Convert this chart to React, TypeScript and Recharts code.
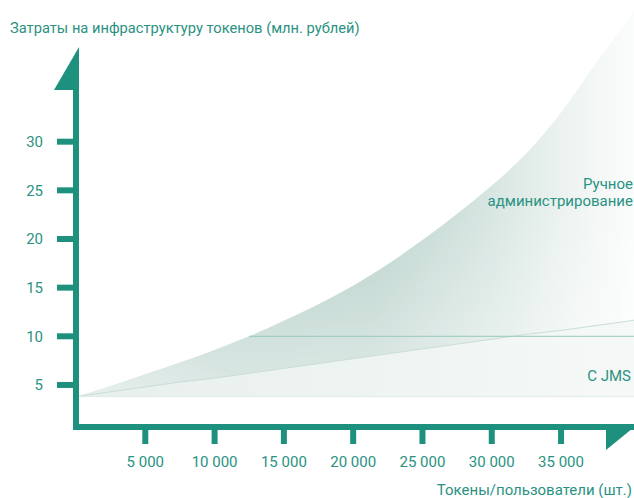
import React from "react"
import { ComposedChart, Area, XAxis, YAxis, ReferenceLine } from "recharts"

// tokens / users (pcs)
const TOKENS = [0, 2500, 5000, 7500, 10000, 12500, 15000, 17500, 20000, 22500, 25000, 27500, 30000, 32500, 35000, 37500, 40000, 42500]
// cost, mln rub
const MANUAL_COST = [3.8, 4.9, 6.1, 7.3, 8.6, 10.0, 11.6, 13.3, 15.2, 17.4, 19.9, 22.6, 25.5, 28.8, 33.0, 38.0, 43.0, 48.5]
const JMS_COST = [3.8, 4.3, 4.8, 5.3, 5.7, 6.2, 6.7, 7.2, 7.7, 8.2, 8.7, 9.2, 9.7, 10.2, 10.6, 11.1, 11.6, 12.1]
const BASE_COST = 3.8

const X_TICKS = [5000, 10000, 15000, 20000, 25000, 30000, 35000]
const Y_TICKS = [5, 10, 15, 20, 25, 30]

const TEAL = "#1e917e"
const TEXT = "#2a9282"
const FONT = "Roboto, 'Open Sans', sans-serif"

const data = TOKENS.map((x, i) => ({ x, manual: MANUAL_COST[i], jms: JMS_COST[i] }))

export default function App() {
  const tickStyle = { fill: TEXT, fontSize: 15, fontFamily: FONT }
  return (
    <div
      style={{
        position: "absolute",
        left: 0,
        top: 0,
        width: 634,
        height: 498,
        overflow: "hidden",
        background: "#fff",
        fontFamily: FONT,
      }}
    >
      <ComposedChart width={665} height={498} data={data} margin={{ top: 0, right: 0, bottom: 11, left: 0 }}>
        <defs>
          <linearGradient id="manualFill" x1="0" y1="0" x2="1" y2="0">
            <stop offset="0" stopColor="#cbddd9" />
            <stop offset="0.25" stopColor="#b3cec7" />
            <stop offset="0.5" stopColor="#b8d1ca" />
            <stop offset="0.7" stopColor="#d6e5e1" />
            <stop offset="0.84" stopColor="#eef4f2" />
            <stop offset="0.94" stopColor="#fafcfb" />
            <stop offset="1" stopColor="#ffffff" />
          </linearGradient>
          <linearGradient id="manualFade" x1="0" y1="0" x2="0" y2="1">
            <stop offset="0" stopColor="#ffffff" stopOpacity={0} />
            <stop offset="0.55" stopColor="#ffffff" stopOpacity={0} />
            <stop offset="1" stopColor="#ffffff" stopOpacity={0.55} />
          </linearGradient>
          <linearGradient id="jmsFill" x1="0" y1="0" x2="1" y2="0">
            <stop offset="0" stopColor="#e7efed" />
            <stop offset="1" stopColor="#f6f9f8" />
          </linearGradient>
        </defs>
        <XAxis
          type="number"
          dataKey="x"
          domain={[0, 42500]}
          ticks={X_TICKS}
          interval={0}
          height={60}
          allowDataOverflow
          axisLine={{ stroke: TEAL, strokeWidth: 6 }}
          tickLine={{ stroke: TEAL, strokeWidth: 6 }}
          tickSize={17}
          tickMargin={12}
          tick={tickStyle}
          tickFormatter={(v) => `${v / 1000} 000`}
        />
        <YAxis
          type="number"
          domain={[0.68, 44.56]}
          ticks={Y_TICKS}
          interval={0}
          width={76}
          allowDataOverflow
          axisLine={false}
          tickLine={{ stroke: TEAL, strokeWidth: 6 }}
          tickSize={19}
          tickMargin={14}
          tick={tickStyle}
        />
        <Area
          type="monotone"
          dataKey={(d) => [d.jms, d.manual]}
          fill="url(#manualFill)"
          fillOpacity={1}
          stroke="none"
          isAnimationActive={false}
        />
        <Area
          type="monotone"
          dataKey={(d) => [d.jms, d.manual]}
          fill="url(#manualFade)"
          fillOpacity={1}
          stroke="none"
          isAnimationActive={false}
        />
        <Area
          type="linear"
          dataKey="jms"
          baseValue={BASE_COST}
          fill="url(#jmsFill)"
          fillOpacity={1}
          stroke="#c9ddd8"
          strokeWidth={1}
          isAnimationActive={false}
        />
        <ReferenceLine y={BASE_COST} stroke="#e0ece9" strokeWidth={1} />
        <ReferenceLine
          segment={[
            { x: 12500, y: 10 },
            { x: 42500, y: 10 },
          ]}
          stroke="#98c9be"
          strokeWidth={1}
        />
        {/* y axis line, ends under the arrow */}
        <ReferenceLine
          segment={[
            { x: 0, y: 0.68 },
            { x: 0, y: 35.5 },
          ]}
          ifOverflow="visible"
          stroke={TEAL}
          strokeWidth={6}
          strokeLinecap="square"
        />
      </ComposedChart>
      <svg
        width={634}
        height={498}
        style={{ position: "absolute", left: 0, top: 0, pointerEvents: "none" }}
        fontFamily={FONT}
        fontSize={15}
        fill={TEXT}
      >
        <polygon points="79,47 79,90 54,90" fill={TEAL} />
        <polygon points="606,424 638,424 606,450" fill={TEAL} />
        <text x={10} y={33} fontSize={14.7}>Затраты на инфраструктуру токенов (млн. рублей)</text>
        <text x={633} y={189} textAnchor="end">Ручное</text>
        <text x={633} y={206} textAnchor="end">администрирование</text>
        <text x={631} y={381} textAnchor="end">С JMS</text>
        <text x={632} y={495} textAnchor="end">Токены/пользователи (шт.)</text>
      </svg>
    </div>
  )
}
